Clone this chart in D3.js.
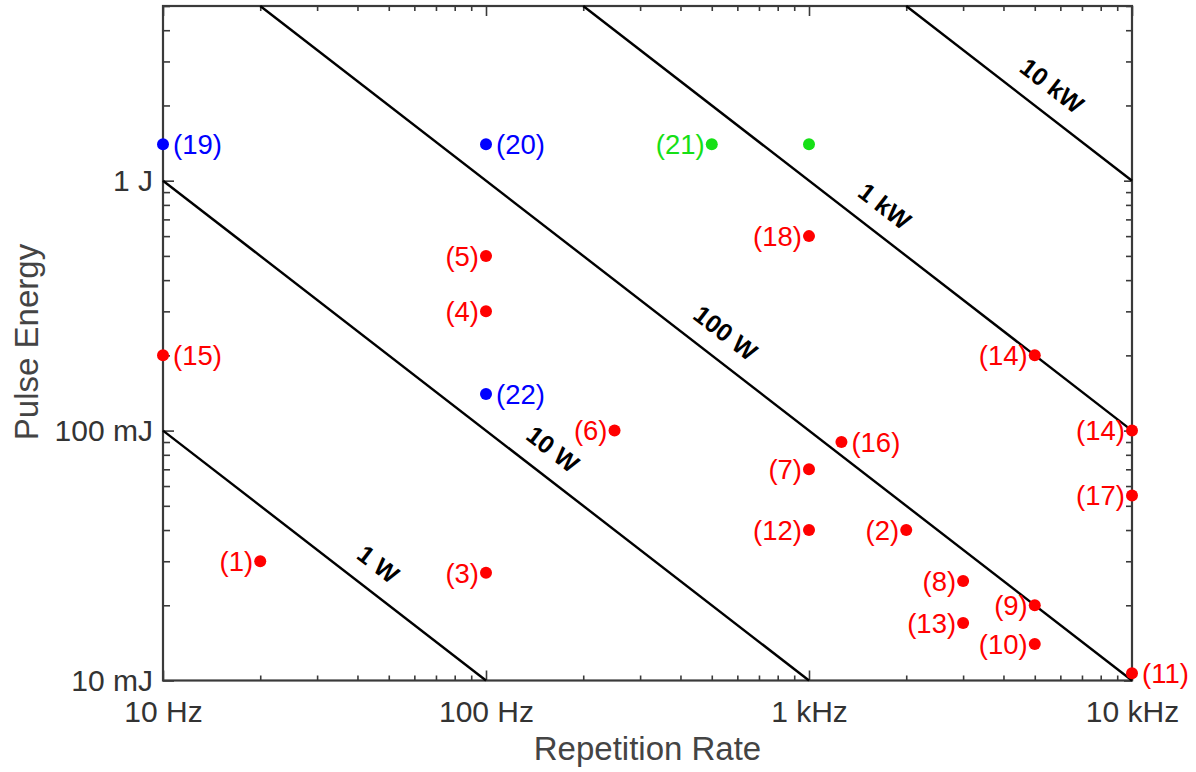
<!DOCTYPE html>
<html>
<head>
<meta charset="utf-8">
<script src="https://cdn.jsdelivr.net/npm/d3@7"></script>
<style>
  html, body { margin: 0; padding: 0; background: #fff; }
  svg { display: block; font-family: "Liberation Sans", Arial, Helvetica, sans-serif; }
</style>
</head>
<body>
<svg id="chart" width="1196" height="772"></svg>
<script>
// Laser sources: repetition rate (Hz) vs. pulse energy (J)
const pointLabels = ["(1)", "(2)", "(3)", "(4)", "(5)", "(6)", "(7)", "(8)", "(9)", "(10)",
                     "(11)", "(12)", "(13)", "(14)", "(14)", "(15)", "(16)", "(17)", "(18)",
                     "(19)", "(20)", "(21)", "", "(22)"];
const repRateHz   = [20, 2000, 100, 100, 100, 250, 1000, 3000, 5000, 5000,
                     10000, 1000, 3000, 5000, 10000, 10, 1260, 10000, 1000,
                     10, 100, 500, 1000, 100];
const pulseEnergyJ = [0.030, 0.040, 0.027, 0.30, 0.50, 0.10, 0.070, 0.025, 0.020, 0.014,
                      0.0107, 0.040, 0.017, 0.20, 0.10, 0.20, 0.090, 0.055, 0.60,
                      1.4, 1.4, 1.4, 1.4, 0.14];
const pointGroup  = ["r", "r", "r", "r", "r", "r", "r", "r", "r", "r",
                     "r", "r", "r", "r", "r", "r", "r", "r", "r",
                     "b", "b", "g", "g", "b"];

// Constant average-power lines (W)
const powerLevels = [1, 10, 100, 1000, 10000];
const powerNames  = ["1 W", "10 W", "100 W", "1 kW", "10 kW"];

// Axis ticks
const xTickValues = [10, 100, 1000, 10000];
const xTickLabels = ["10 Hz", "100 Hz", "1 kHz", "10 kHz"];
const yTickValues = [0.01, 0.1, 1];
const yTickLabels = ["10 mJ", "100 mJ", "1 J"];

// ---- layout ----
const plotL = 163, plotR = 1132, plotT = 6, plotB = 680.5;
const groupColor = { r: "#ff0000", b: "#0000ff", g: "#16e016" };
// which side of the dot each label sits on
const labelSide = ["L", "L", "L", "L", "L", "L", "L", "L", "L", "L",
                   "R", "L", "L", "L", "L", "R", "R", "L", "L",
                   "R", "R", "L", "", "R"];
// frequency along each power line where its name is written
const powerLabelAt = [46.4, 161, 551, 1714, 5650];

const svg = d3.select("#chart");

const x = d3.scaleLog().domain([10, 10000]).range([plotL, plotR]);
const y = d3.scaleLog().domain([0.01, 5]).range([plotB, plotT]);

// minor tick positions (2..9 in each decade)
const minorX = [];
for (let d = 10; d < 10000; d *= 10) for (let k = 2; k <= 9; k++) minorX.push(d * k);
const minorY = [];
for (let d = 0.01; d < 5; d *= 10) for (let k = 2; k <= 9; k++) if (d * k <= 5.0001) minorY.push(d * k);

const axisColor = "#3a3a3a";
const gAxes = svg.append("g");

function styleAxis(g) {
  g.select(".domain").remove();
  g.selectAll(".tick line").attr("stroke", axisColor).attr("stroke-width", 1.6);
}

// bottom
gAxes.append("g").attr("transform", `translate(0,${plotB})`)
  .call(d3.axisBottom(x).tickValues(xTickValues).tickSizeInner(-10).tickSizeOuter(0).tickPadding(20)
        .tickFormat((d, i) => xTickLabels[i]))
  .call(styleAxis)
  .call(g => g.selectAll("text").attr("font-size", 30).attr("fill", "#333"));
gAxes.append("g").attr("transform", `translate(0,${plotB})`)
  .call(d3.axisBottom(x).tickValues(minorX).tickSizeInner(-5).tickSizeOuter(0).tickFormat(""))
  .call(styleAxis);
// top (mirror)
gAxes.append("g").attr("transform", `translate(0,${plotT})`)
  .call(d3.axisTop(x).tickValues(xTickValues).tickSizeInner(-10).tickSizeOuter(0).tickFormat(""))
  .call(styleAxis);
gAxes.append("g").attr("transform", `translate(0,${plotT})`)
  .call(d3.axisTop(x).tickValues(minorX).tickSizeInner(-5).tickSizeOuter(0).tickFormat(""))
  .call(styleAxis);
// left
gAxes.append("g").attr("transform", `translate(${plotL},0)`)
  .call(d3.axisLeft(y).tickValues(yTickValues).tickSizeInner(-11).tickSizeOuter(0).tickPadding(10)
        .tickFormat((d, i) => yTickLabels[i]))
  .call(styleAxis)
  .call(g => g.selectAll("text").attr("font-size", 30).attr("fill", "#333"));
gAxes.append("g").attr("transform", `translate(${plotL},0)`)
  .call(d3.axisLeft(y).tickValues(minorY).tickSizeInner(-7).tickSizeOuter(0).tickFormat(""))
  .call(styleAxis);
// right (mirror)
gAxes.append("g").attr("transform", `translate(${plotR},0)`)
  .call(d3.axisRight(y).tickValues(yTickValues).tickSizeInner(-8).tickSizeOuter(0).tickFormat(""))
  .call(styleAxis);
gAxes.append("g").attr("transform", `translate(${plotR},0)`)
  .call(d3.axisRight(y).tickValues(minorY).tickSizeInner(-6).tickSizeOuter(0).tickFormat(""))
  .call(styleAxis);

// frame
svg.append("rect")
  .attr("x", plotL).attr("y", plotT)
  .attr("width", plotR - plotL).attr("height", plotB - plotT)
  .attr("fill", "none").attr("stroke", axisColor).attr("stroke-width", 2.2);

// power lines, clipped to the plotted range
const [fMin, fMax] = x.domain();
const [eMin, eMax] = y.domain();
const line = d3.line().x(d => x(d[0])).y(d => y(d[1]));
const gPow = svg.append("g");
powerLevels.forEach((P, i) => {
  const f0 = Math.max(fMin, P / eMax);
  const f1 = Math.min(fMax, P / eMin);
  gPow.append("path")
    .attr("d", line([[f0, P / f0], [f1, P / f1]]))
    .attr("fill", "none").attr("stroke", "#000").attr("stroke-width", 2.4);

  const fl = powerLabelAt[i];
  const lx = x(fl), ly = y(P / fl) - 33;
  const angle = Math.atan2(y(P / 100) - y(P / 10), x(100) - x(10)) * 180 / Math.PI;
  gPow.append("text")
    .attr("transform", `translate(${lx},${ly}) rotate(${angle})`)
    .attr("text-anchor", "middle").attr("dy", "0.35em")
    .attr("font-size", 25).attr("font-weight", "bold").attr("fill", "#000")
    .text(powerNames[i]);
});

// data points and labels
const pts = repRateHz.map((f, i) => ({
  f, e: pulseEnergyJ[i], label: pointLabels[i], c: groupColor[pointGroup[i]], side: labelSide[i]
}));
const gPts = svg.append("g");
gPts.selectAll("circle").data(pts).join("circle")
  .attr("cx", d => x(d.f)).attr("cy", d => y(d.e)).attr("r", 6)
  .attr("fill", d => d.c);
gPts.selectAll("text").data(pts.filter(d => d.label)).join("text")
  .attr("x", d => d.side === "R" ? x(d.f) + 10 : x(d.f) - 7)
  .attr("y", d => y(d.e)).attr("dy", "0.36em")
  .attr("text-anchor", d => d.side === "R" ? "start" : "end")
  .attr("font-size", 27.5).attr("fill", d => d.c)
  .text(d => d.label);

// axis titles
svg.append("text")
  .attr("x", (plotL + plotR) / 2).attr("y", 760)
  .attr("text-anchor", "middle").attr("font-size", 33).attr("fill", "#444")
  .text("Repetition Rate");
svg.append("text")
  .attr("transform", `translate(38,342) rotate(-90)`)
  .attr("text-anchor", "middle").attr("font-size", 33).attr("fill", "#444")
  .text("Pulse Energy");
</script>
</body>
</html>
